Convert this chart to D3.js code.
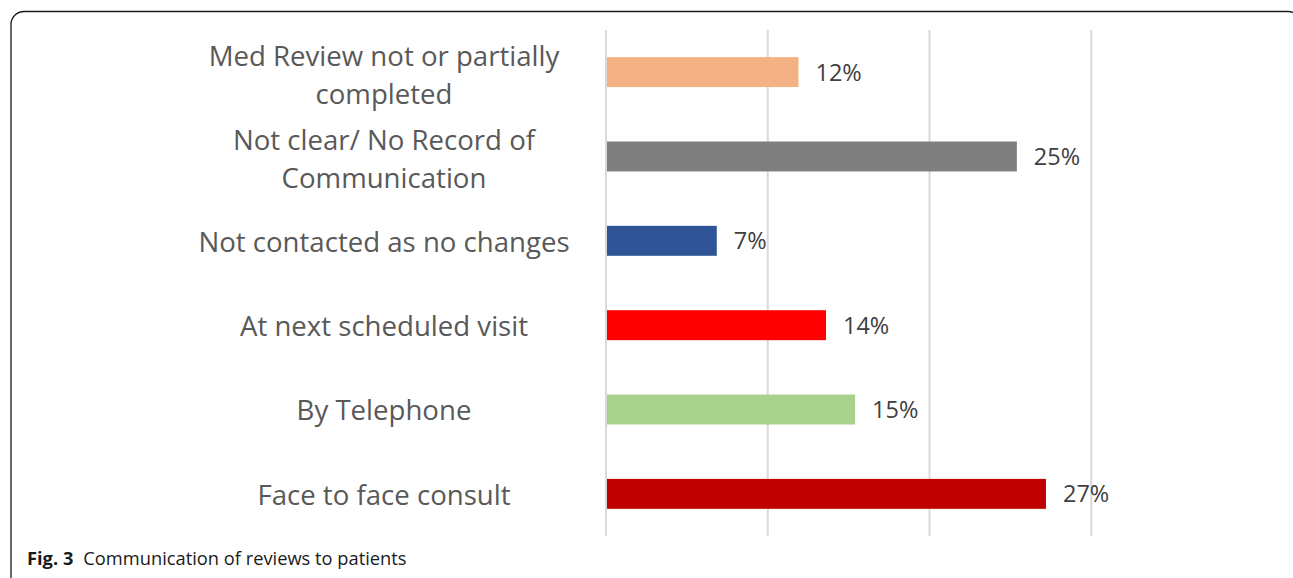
<!DOCTYPE html>
<html>
<head>
<meta charset="utf-8">
<script src="https://cdn.jsdelivr.net/npm/d3@7"></script>
<style>
  html, body { margin: 0; padding: 0; background: #fff; }
  svg { display: block; }
</style>
</head>
<body>
<script>
// data (labels show rounded percentages)
const categories = [
  'Med Review not or partially completed',
  'Not clear/ No Record of Communication',
  'Not contacted as no changes',
  'At next scheduled visit',
  'By Telephone',
  'Face to face consult'
];
const labelLines = [
  ['Med Review not or partially', 'completed'],
  ['Not clear/ No Record of', 'Communication'],
  ['Not contacted as no changes'],
  ['At next scheduled visit'],
  ['By Telephone'],
  ['Face to face consult']
];
const values = [11.9, 25.4, 6.85, 13.6, 15.4, 27.2];
const valueLabels = ['12%', '25%', '7%', '14%', '15%', '27%'];
const barColors = ['#F4B183', '#7F7F7F', '#2F5597', '#FF0000', '#A9D18E', '#C00000'];
const gridTicks = [0, 10, 20, 30, 40];

const W = 1293, H = 578;
const svg = d3.select('body').append('svg')
  .attr('width', W).attr('height', H)
  .attr('viewBox', `0 0 ${W} ${H}`);

svg.append('rect').attr('width', W).attr('height', H).attr('fill', '#fff');

// rounded frame, cut by the page edge on the right and bottom
svg.append('rect')
  .attr('x', 11).attr('y', 11.5)
  .attr('width', 1290).attr('height', 580)
  .attr('rx', 13)
  .attr('fill', 'none')
  .attr('stroke', '#1a1a1a')
  .attr('stroke-width', 1.3);

const x = d3.scaleLinear().domain([0, 40]).range([606, 1253]);
const y = d3.scaleBand().domain(categories).range([30, 536]).paddingInner(0.645).paddingOuter(0.322);

// vertical gridlines
svg.append('g').selectAll('line')
  .data(gridTicks.filter(t => x(t) < 1200))
  .join('line')
  .attr('x1', d => x(d)).attr('x2', d => x(d))
  .attr('y1', 30).attr('y2', 536)
  .attr('stroke', '#d9d9d9')
  .attr('stroke-width', 2);

// bars
svg.append('g').selectAll('rect')
  .data(categories)
  .join('rect')
  .attr('x', x(0) + 1)
  .attr('y', d => y(d))
  .attr('width', (d, i) => x(values[i]) - x(0) - 1)
  .attr('height', y.bandwidth())
  .attr('fill', (d, i) => barColors[i]);

// value labels
svg.append('g').selectAll('text')
  .data(categories)
  .join('text')
  .attr('x', (d, i) => x(values[i]) + 17)
  .attr('y', d => y(d) + y.bandwidth() / 2)
  .attr('dy', '0.36em')
  .attr('font-family', '"Open Sans", sans-serif')
  .attr('font-size', 23.5)
  .attr('fill', '#404040')
  .text((d, i) => valueLabels[i]);

// category labels, centred in the left column
const lineH = 38, catSize = 27.6;
const cat = svg.append('g').selectAll('text')
  .data(categories)
  .join('text')
  .attr('x', 384)
  .attr('y', (d, i) => y(d) + y.bandwidth() / 2 + (labelLines[i].length > 1 ? 3 : 1))
  .attr('text-anchor', 'middle')
  .attr('font-family', '"Open Sans", sans-serif')
  .attr('font-size', catSize)
  .attr('fill', '#595959');

cat.each(function (d, i) {
  const lines = labelLines[i];
  const t = d3.select(this);
  const y0 = -((lines.length - 1) * lineH) / 2;
  lines.forEach((s, k) => {
    t.append('tspan')
      .attr('x', 384)
      .attr('dy', k === 0 ? (y0 / catSize + 0.36) + 'em' : lineH + 'px')
      .text(s);
  });
});

// figure caption
const cap = svg.append('text')
  .attr('x', 27).attr('y', 565)
  .attr('font-family', '"Open Sans", sans-serif')
  .attr('font-size', 18.3)
  .attr('fill', '#1a1a1a');
cap.append('tspan').attr('font-weight', 'bold').text('Fig. 3');
cap.append('tspan').attr('dx', 10).text('Communication of reviews to patients');
</script>
</body>
</html>
